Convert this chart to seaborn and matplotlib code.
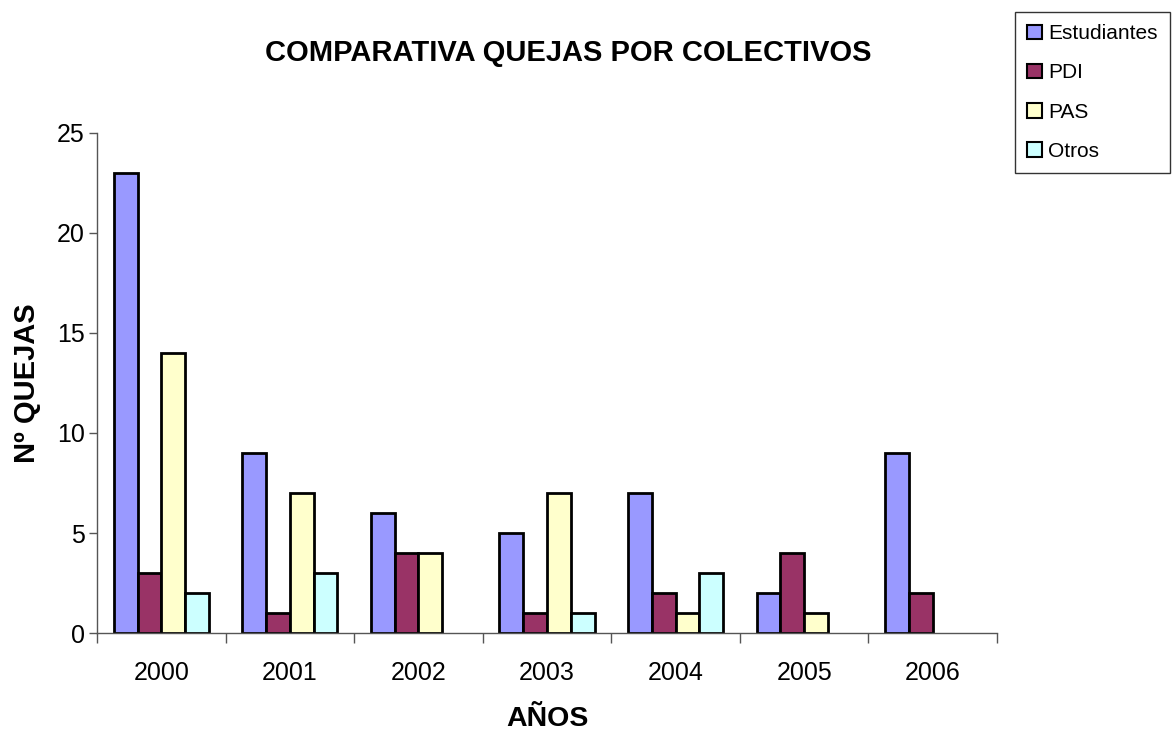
import numpy as np
import pandas as pd
import matplotlib
matplotlib.use('Agg')
import matplotlib.pyplot as plt
import seaborn as sns

# datos
anios = ['2000', '2001', '2002', '2003', '2004', '2005', '2006']
estudiantes = [23, 9, 6, 5, 7, 2, 9]
pdi = [3, 1, 4, 1, 2, 4, 2]
pas = [14, 7, 4, 7, 1, 1, np.nan]
otros = [2, 3, np.nan, 1, 3, np.nan, np.nan]

colectivos = ['Estudiantes', 'PDI', 'PAS', 'Otros']
colores = ['#9999FF', '#993366', '#FFFFCC', '#CCFFFF']

df = pd.DataFrame({'Estudiantes': estudiantes, 'PDI': pdi, 'PAS': pas, 'Otros': otros}, index=anios)
largo = df.reset_index().melt(id_vars='index', var_name='colectivo', value_name='quejas')
largo.columns = ['anio', 'colectivo', 'quejas']

sns.set_style('white')
plt.rcParams['font.family'] = ['Liberation Sans', 'DejaVu Sans']
plt.rcParams['text.color'] = 'black'
plt.rcParams['axes.labelcolor'] = 'black'

fig = plt.figure(figsize=(11.72, 7.33), dpi=100)
ax = fig.add_axes([0.0828, 0.1364, 0.7679, 0.6822])

sns.barplot(data=largo, x='anio', y='quejas', hue='colectivo', order=anios,
            hue_order=colectivos, palette=colores, width=0.74, saturation=1,
            edgecolor='black', linewidth=2, ax=ax, legend=False)

ax.set_xlim(-0.5, len(anios) - 0.5)
ax.set_ylim(0, 25)
ax.set_yticks([0, 5, 10, 15, 20, 25])
ax.tick_params(axis='y', labelsize=18, length=6, direction='out', color='#555555',
               labelcolor='black', left=True, width=1, pad=3)
# ticks entre categorias, etiquetas centradas
ax.set_xticks(np.arange(-0.5, len(anios), 1.0))
ax.set_xticklabels([])
ax.set_xticks(np.arange(len(anios)), minor=True)
ax.set_xticklabels(anios, minor=True)
ax.tick_params(axis='x', which='major', length=7, direction='out', color='#555555', bottom=True, width=1)
ax.tick_params(axis='x', which='minor', length=0, labelsize=18, pad=20, labelcolor='black')

for s in ['top', 'right']:
    ax.spines[s].set_visible(False)
for s in ['left', 'bottom']:
    ax.spines[s].set_color('#555555')
    ax.spines[s].set_linewidth(1)

ax.set_xlabel('AÑOS', fontsize=20.5, fontweight='bold', labelpad=15)
ax.set_ylabel('Nº QUEJAS', fontsize=21, fontweight='bold', labelpad=11)
fig.text(0.4846, 0.928, 'COMPARATIVA QUEJAS POR COLECTIVOS', ha='center', va='center',
         fontsize=21, fontweight='bold')

handles = [plt.Rectangle((0, 0), 1, 1, facecolor=c, edgecolor='black', linewidth=1.5) for c in colores]
leg = fig.legend(handles, colectivos, loc='upper left', bbox_to_anchor=(0.866, 0.984),
                 frameon=True, fancybox=False, fontsize=15, handlelength=0.7, handleheight=0.7,
                 handletextpad=0.3, labelspacing=0.97, borderpad=0.6, borderaxespad=0)
leg.get_frame().set_edgecolor('black')
leg.get_frame().set_linewidth(1)

fig.savefig('out.png', dpi=100)
